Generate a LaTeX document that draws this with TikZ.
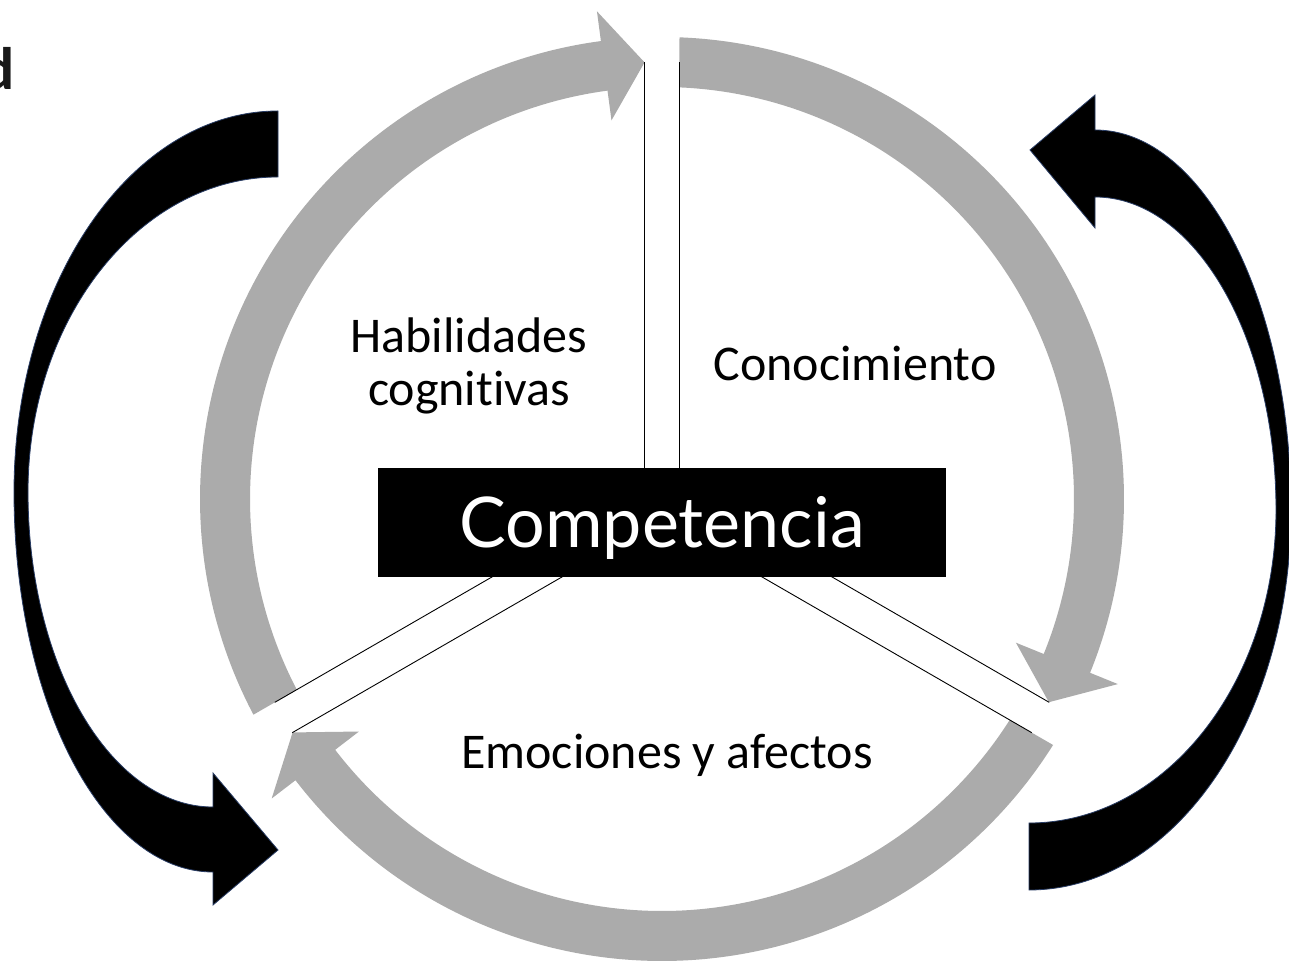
\documentclass[tikz,border=0pt]{standalone}
\usepackage{fontspec}
\setmainfont{Carlito}[Ligatures=NoCommon]
\newfontfamily\compfont{Lato}
\usetikzlibrary{calc}
\definecolor{ringgray}{RGB}{171,171,171}
\definecolor{arrowedge}{RGB}{40,60,100}
\tikzset{
  ringarrow/.style={fill=ringgray, draw=none},
  blackarrow/.style={fill=black, draw=arrowedge, line width=0.8pt, line join=miter},
  divider/.style={draw=black, line width=0.9pt},
  lbltext/.style={font=\fontsize{50}{60}\selectfont, inner sep=0pt, anchor=base, text=black},
  cuttext/.style={font=\fontsize{60}{72}\selectfont\bfseries, inner sep=0pt, text=black!90},
  compbox/.style={fill=black, draw=none, minimum width=568pt, minimum height=109pt, inner sep=0pt},
  comptext/.style={font=\compfont\fontsize{70}{84}\selectfont, text=white, inner sep=0pt, anchor=base}
}
\begin{document}
\begin{tikzpicture}[x=1pt,y=1pt]
\useasboundingbox (0,0) rectangle (1289,964);
\clip (0,0) rectangle (1289,964);
\fill[white] (0,0) rectangle (1289,964);

% gray ring arrows
\begin{scope}[shift={(662,465)}]
  \fill[ringarrow] (207.83:462) arc[start angle=207.83, end angle=97.6, radius=462]
     -- (97.6:492) -- (92.29:437) -- (97.6:382) -- (97.6:412)
     arc[start angle=97.6, end angle=207.57, radius=412] -- cycle;
  \fill[ringarrow] (87.83:462) arc[start angle=87.83, end angle=-22.1, radius=462]
     -- (-22.1:492) -- (-27.71:437) -- (-22.1:382) -- (-22.1:412)
     arc[start angle=-22.1, end angle=87.57, radius=412] -- cycle;
  \fill[ringarrow] (-32.17:462) arc[start angle=-32.17, end angle=-142.5, radius=462]
     -- (-142.5:492) -- (-147.71:437) -- (-142.5:382) -- (-142.5:412)
     arc[start angle=-142.5, end angle=-32.43, radius=412] -- cycle;
  % divider double lines
  \foreach \a in {90,210,330}{
    \draw[divider] ($(\a+90:17.5)$) -- ($(\a:437)+(\a+90:17.5)$);
    \draw[divider] ($(\a-90:17.5)$) -- ($(\a:437)+(\a-90:17.5)$);
  }
\end{scope}

% central box
\node[compbox] (comp) at (662,441.5) {};
\node[comptext] (comptxt) at (662,416) {Competencia};

% black outer arrows
\filldraw[blackarrow] (278,853) .. controls (132,853) and (14,682) .. (14,472)
   .. controls (14,262) and (103,92) .. (213,92) -- (213,59) -- (278,114) -- (213,191) -- (213,157)
   .. controls (111,157) and (28,298) .. (28,472)
   .. controls (28,646) and (140,787) .. (278,787) -- cycle;
\filldraw[blackarrow] (1095,834) .. controls (1203,834) and (1291,664) .. (1291,454)
   .. controls (1291,244) and (1174,74) .. (1029,74) -- (1029,141)
   .. controls (1165,141) and (1276,281) .. (1276,454)
   .. controls (1276,627) and (1195,767) .. (1095,767) -- (1095,736) -- (1030,814) -- (1095,869) -- cycle;

% labels
\node[lbltext] (hab1) at (469,611) {Habilidades};
\node[lbltext] (hab2) at (469,558) {cognitivas};
\node[lbltext] (con) at (855,583) {Conocimiento};
\node[lbltext] (emo) at (667,196) {Emociones y afectos};

% cut-off texts at the edges
\node[cuttext, anchor=base east] (cutd) at (15,874) {d};
\node[cuttext, anchor=base west] (cutb) at (870,-44) {Conversación};
\end{tikzpicture}
\end{document}
